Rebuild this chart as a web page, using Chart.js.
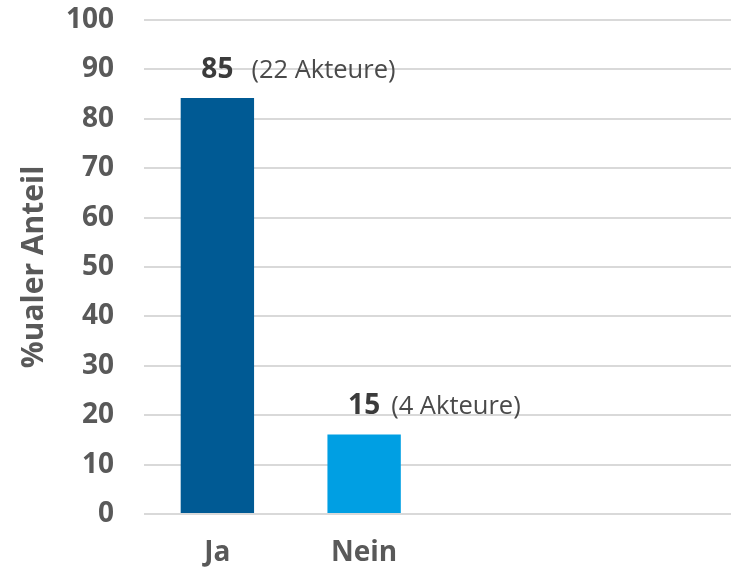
<!DOCTYPE html>
<html>
<head>
<meta charset="utf-8">
<script src="https://cdn.jsdelivr.net/npm/chart.js@4"></script>
<style>
html,body{margin:0;padding:0;background:#fff;}
#wrap{width:731px;height:570px;}
</style>
</head>
<body>
<div id="wrap"><canvas id="c" width="731" height="570"></canvas></div>
<script>
const categories = ['Ja', 'Nein', '', ''];
const shareValues = [84.2, 16.1, null, null];
const valueLabels = ['85', '15'];
const actorNotes = ['(22 Akteure)', '(4 Akteure)'];
const yAxisTitle = '%ualer Anteil';
const yMin = 0, yMax = 100, yStep = 10;

const FONT = '"Open Sans", "DejaVu Sans", sans-serif';

const labelPlugin = {
  id: 'barLabels',
  afterDatasetsDraw(chart, args, opts) {
    const ctx = chart.ctx;
    const meta = chart.getDatasetMeta(0);
    ctx.save();
    meta.data.forEach((el, i) => {
      if (shareValues[i] == null || valueLabels[i] == null) return;
      const y = el.y - opts.lift;
      ctx.textBaseline = 'alphabetic';
      ctx.font = 'bold 28px ' + FONT;
      ctx.fillStyle = '#3b3b3b';
      ctx.textAlign = 'center';
      ctx.fillText(valueLabels[i], el.x, y);
      const w = ctx.measureText(valueLabels[i]).width;
      ctx.font = '25.5px ' + FONT;
      ctx.fillStyle = '#4a4a4a';
      ctx.textAlign = 'left';
      ctx.fillText(actorNotes[i], el.x + w / 2 + opts.gaps[i], y);
    });
    ctx.restore();
  }
};

new Chart(document.getElementById('c'), {
  type: 'bar',
  data: {
    labels: categories,
    datasets: [{
      data: shareValues,
      backgroundColor: ['#005a94', '#009fe3', '#009fe3', '#009fe3'],
      borderWidth: 0,
      categoryPercentage: 1,
      barPercentage: 0.5
    }]
  },
  options: {
    responsive: false,
    animation: false,
    devicePixelRatio: 1,
    layout: { padding: { top: 20, right: 0, left: 0, bottom: 0 } },
    plugins: {
      legend: { display: false },
      tooltip: { enabled: false },
      barLabels: { lift: 20, gaps: [18, 11] }
    },
    scales: {
      x: {
        grid: { display: false, drawTicks: false },
        border: { display: false },
        ticks: {
          padding: 22,
          color: '#595959',
          font: { family: FONT, size: 28, weight: 'bold' }
        },
        afterFit(scale) { scale.height = 56; }
      },
      y: {
        min: yMin,
        max: yMax,
        grid: { color: '#d9d9d9', lineWidth: 2, drawTicks: false },
        border: { display: false },
        ticks: {
          stepSize: yStep,
          padding: 30,
          color: '#595959',
          font: { family: FONT, size: 28, weight: 'bold' }
        },
        title: {
          display: true,
          text: yAxisTitle,
          color: '#595959',
          padding: { top: 16, bottom: 0 },
          font: { family: FONT, size: 30, weight: 'bold' }
        },
        afterFit(scale) {
          scale.width = 144;
          scale.paddingTop = 0;
          scale.paddingBottom = 0;
        }
      }
    }
  },
  plugins: [labelPlugin]
});
</script>
</body>
</html>
